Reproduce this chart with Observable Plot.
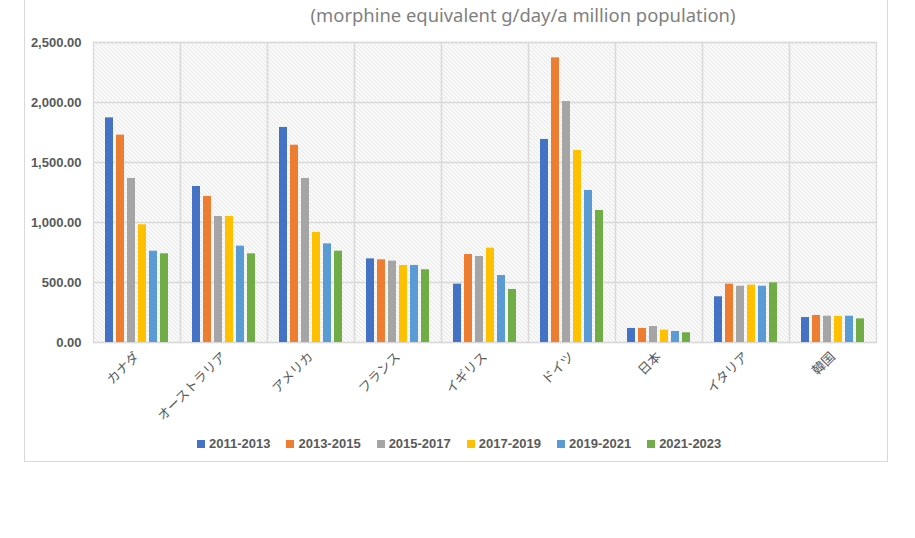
<!DOCTYPE html>
<html>
<head>
<meta charset="utf-8">
<script src="https://cdn.jsdelivr.net/npm/d3@7"></script>
<script src="https://cdn.jsdelivr.net/npm/@observablehq/plot@0.6"></script>
<style>
  html, body { margin: 0; padding: 0; background: #fff; width: 915px; height: 538px; overflow: hidden; position: relative; }
  #box { position: absolute; left: 24px; top: -10px; width: 864px; height: 472px; border: 1px solid #d9d9d9; box-sizing: border-box; }
  #title { position: absolute; top: 2px; left: 0; width: 1046px; text-align: center; font-family: "Noto Sans", sans-serif; font-size: 18.4px; color: #7f7f7f; white-space: nowrap; }
  #chart { position: absolute; left: 0; top: 0; }
  #legend { position: absolute; top: 436px; left: 197px; display: flex; font-family: "Liberation Sans", Arial, sans-serif; font-weight: bold; font-size: 13px; color: #595959; }
  .item { display: flex; align-items: center; margin-right: 16px; }
  .sw { width: 8px; height: 8px; margin-right: 4px; }
</style>
</head>
<body>
<div id="box"></div>
<div id="title">(morphine equivalent g/day/a million population)</div>
<div id="chart"></div>
<div id="legend"></div>
<script>
const countries = ["カナダ", "オーストラリア", "アメリカ", "フランス", "イギリス", "ドイツ", "日本", "イタリア", "韓国"];
const periods = ["2011-2013", "2013-2015", "2015-2017", "2017-2019", "2019-2021", "2021-2023"];
const colors = ["#4472C4", "#ED7D31", "#A5A5A5", "#FFC000", "#5B9BD5", "#70AD47"];
const v2011_2013 = [1872, 1300, 1792, 697, 486, 1692, 117, 381, 208];
const v2013_2015 = [1728, 1217, 1644, 689, 733, 2372, 117, 486, 225];
const v2015_2017 = [1367, 1050, 1367, 678, 717, 2008, 133, 469, 219];
const v2017_2019 = [981, 1050, 917, 642, 786, 1600, 103, 478, 217];
const v2019_2021 = [761, 803, 822, 642, 558, 1267, 92, 469, 219];
const v2021_2023 = [739, 739, 761, 606, 442, 1100, 81, 497, 197];
const yTicks = [0, 500, 1000, 1500, 2000, 2500];

const series = [v2011_2013, v2013_2015, v2015_2017, v2017_2019, v2019_2021, v2021_2023];
const data = [];
countries.forEach((c, i) => {
  periods.forEach((p, j) => data.push({country: c, period: p, value: series[j][i]}));
});

const plot = Plot.plot({
  width: 915,
  height: 420,
  marginLeft: 92,
  marginRight: 38,
  marginTop: 42,
  marginBottom: 78,
  style: {background: "transparent", overflow: "visible"},
  fx: {domain: countries, padding: 0, label: null},
  x: {domain: periods, axis: null, paddingInner: 0.31, paddingOuter: 0.9},
  y: {domain: [0, 2500], label: null},
  color: {domain: periods, range: colors},
  marks: [
    Plot.frame({fill: "url(#hatch)", stroke: null}),
    Plot.gridY(yTicks, {stroke: "#d9d9d9", strokeOpacity: 1, strokeWidth: 1.3}),
    Plot.frame({stroke: "#d9d9d9", strokeWidth: 1.3}),
    Plot.barY(data, {fx: "country", x: "period", y: "value", fill: "period"}),
    Plot.axisY(yTicks, {tickSize: 0, tickPadding: 12, tickFormat: d3.format(",.2f"), fontSize: 13, fontWeight: "bold", fontFamily: "Liberation Sans, Arial, sans-serif", fill: "#595959", label: null}),
    Plot.axisFx({anchor: "bottom", tickRotate: -45, tickSize: 0, tickPadding: 12, fontSize: 13, fontFamily: "Noto Sans CJK JP, sans-serif", fill: "#595959", label: null})
  ]
});

plot.insertAdjacentHTML("afterbegin",
  `<defs><pattern id="hatch" patternUnits="userSpaceOnUse" width="4" height="4">
     <rect width="4" height="4" fill="#ffffff"/>
     <path d="M-1,-1 L5,5 M3,-1 L5,1 M-1,3 L1,5" stroke="#cccccc" stroke-width="0.8"/>
   </pattern></defs>`);
document.getElementById("chart").appendChild(plot);

const legend = document.getElementById("legend");
periods.forEach((p, i) => {
  const item = document.createElement("div");
  item.className = "item";
  const sw = document.createElement("div");
  sw.className = "sw";
  sw.style.background = colors[i];
  const t = document.createElement("span");
  t.textContent = p;
  item.appendChild(sw);
  item.appendChild(t);
  legend.appendChild(item);
});
</script>
</body>
</html>
